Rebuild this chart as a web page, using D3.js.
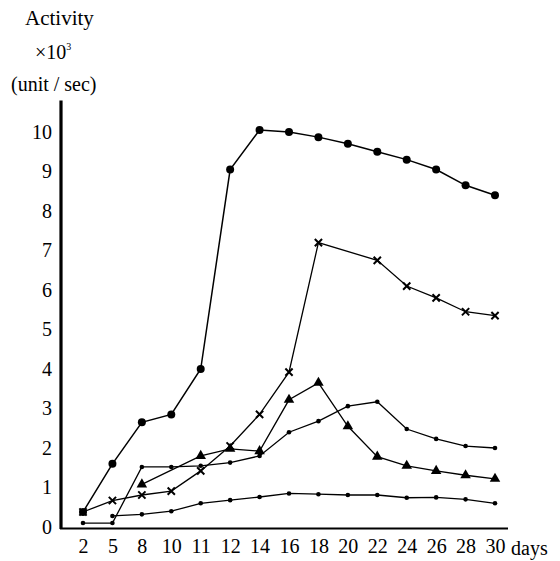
<!DOCTYPE html>
<html>
<head>
<meta charset="utf-8">
<script src="https://cdn.jsdelivr.net/npm/d3@7"></script>
<style>
  body { margin: 0; background: #fff; }
  svg { display: block; }
  text { font-family: "Liberation Serif", "DejaVu Serif", "Times New Roman", Times, serif; }
</style>
</head>
<body>
<svg width="560" height="561"></svg>
<script>
// days on the x axis (drawn evenly spaced, like the original)
const days = [2, 5, 8, 10, 11, 12, 14, 16, 18, 20, 22, 24, 26, 28, 30];
const yTicks = [0, 1, 2, 3, 4, 5, 6, 7, 8, 9, 10];

// activity x10^3 (unit / sec), null = no measurement
const circleSeries   = [0.38, 1.6, 2.65, 2.85, 4.0, 9.05, 10.05, 10.0, 9.87, 9.7, 9.5, 9.3, 9.05, 8.65, 8.4];
const crossSeries    = [0.38, 0.67, 0.81, 0.91, 1.42, 2.05, 2.85, 3.92, 7.2, null, 6.75, 6.1, 5.8, 5.45, 5.35];
const triangleSeries = [null, null, 1.08, null, 1.8, 1.98, 1.92, 3.22, 3.65, 2.55, 1.78, 1.55, 1.42, 1.31, 1.22];
const dotSeries      = [0.1, 0.1, 1.52, 1.52, 1.55, 1.63, 1.8, 2.4, 2.68, 3.06, 3.17, 2.48, 2.23, 2.05, 2.0];
const lowSeries      = [null, 0.28, 0.32, 0.4, 0.6, 0.68, 0.76, 0.85, 0.83, 0.81, 0.81, 0.74, 0.75, 0.7, 0.6];

const svg = d3.select('svg');
const serif = '"Liberation Serif", "DejaVu Serif", "Times New Roman", Times, serif';

const x = d3.scalePoint().domain(days).range([83, 495]);
const y = d3.scaleLinear().domain([0, 10]).range([527, 132]);

// axis lines
svg.append('line')
    .attr('x1', 61).attr('x2', 61)
    .attr('y1', y(10.8)).attr('y2', y(0) + 2)
    .attr('stroke', '#000').attr('stroke-width', 3.2);
svg.append('line')
    .attr('x1', 60).attr('x2', 508)
    .attr('y1', y(0) + 1.5).attr('y2', y(0) + 1.5)
    .attr('stroke', '#000').attr('stroke-width', 2.2);

// tick labels
const yAxis = svg.append('g')
    .attr('transform', 'translate(61,0)')
    .call(d3.axisLeft(y).tickValues(yTicks).tickSize(0).tickPadding(9));
yAxis.attr('font-family', serif);
yAxis.select('.domain').remove();
yAxis.selectAll('text')
    .attr('font-size', 20)
    .attr('fill', '#000');

const xAxis = svg.append('g')
    .attr('transform', `translate(0,${y(0) + 12})`)
    .call(d3.axisBottom(x).tickSize(0).tickPadding(0));
xAxis.attr('font-family', serif);
xAxis.select('.domain').remove();
xAxis.selectAll('text')
    .attr('font-size', 20)
    .attr('fill', '#000');

svg.append('text')
    .attr('x', 511).attr('y', 555)
    .attr('font-size', 20)
    .text('days');

// y axis title
svg.append('text').attr('x', 25).attr('y', 25).attr('font-size', 21).text('Activity');
const mult = svg.append('text').attr('x', 35).attr('y', 59).attr('font-size', 20);
mult.append('tspan').text('\u00d710');
mult.append('tspan').attr('dy', -9).attr('font-size', 10).text('3');
svg.append('text').attr('x', 11).attr('y', 91).attr('font-size', 20).text('(unit / sec)');

const series = [
    { values: circleSeries,   marker: 'circle',   width: 1.5 },
    { values: crossSeries,    marker: 'cross',    width: 1.3 },
    { values: triangleSeries, marker: 'triangle', width: 1.3 },
    { values: dotSeries,      marker: 'dot',      width: 1.3 },
    { values: lowSeries,      marker: 'dot',      width: 1.3 }
];

const line = d3.line()
    .x(d => x(d.day))
    .y(d => y(d.v));

series.forEach(s => {
    const pts = days.map((day, i) => ({ day: day, v: s.values[i] }))
        .filter(d => d.v !== null);

    svg.append('path')
        .datum(pts)
        .attr('d', line)
        .attr('fill', 'none')
        .attr('stroke', '#000')
        .attr('stroke-width', s.width);

    const g = svg.append('g');
    if (s.marker === 'circle') {
        g.selectAll('circle').data(pts).join('circle')
            .attr('cx', d => x(d.day)).attr('cy', d => y(d.v))
            .attr('r', 4).attr('fill', '#000');
    } else if (s.marker === 'dot') {
        g.selectAll('circle').data(pts).join('circle')
            .attr('cx', d => x(d.day)).attr('cy', d => y(d.v))
            .attr('r', 2.3).attr('fill', '#000');
    } else if (s.marker === 'triangle') {
        g.selectAll('path').data(pts).join('path')
            .attr('d', d3.symbol(d3.symbolTriangle, 48))
            .attr('transform', d => `translate(${x(d.day)},${y(d.v)})`)
            .attr('fill', '#000');
    } else {
        g.selectAll('path').data(pts).join('path')
            .attr('d', d3.symbol(d3.symbolTimes, 36))
            .attr('transform', d => `translate(${x(d.day)},${y(d.v)})`)
            .attr('fill', 'none')
            .attr('stroke', '#000')
            .attr('stroke-width', 2);
    }
});
</script>
</body>
</html>
